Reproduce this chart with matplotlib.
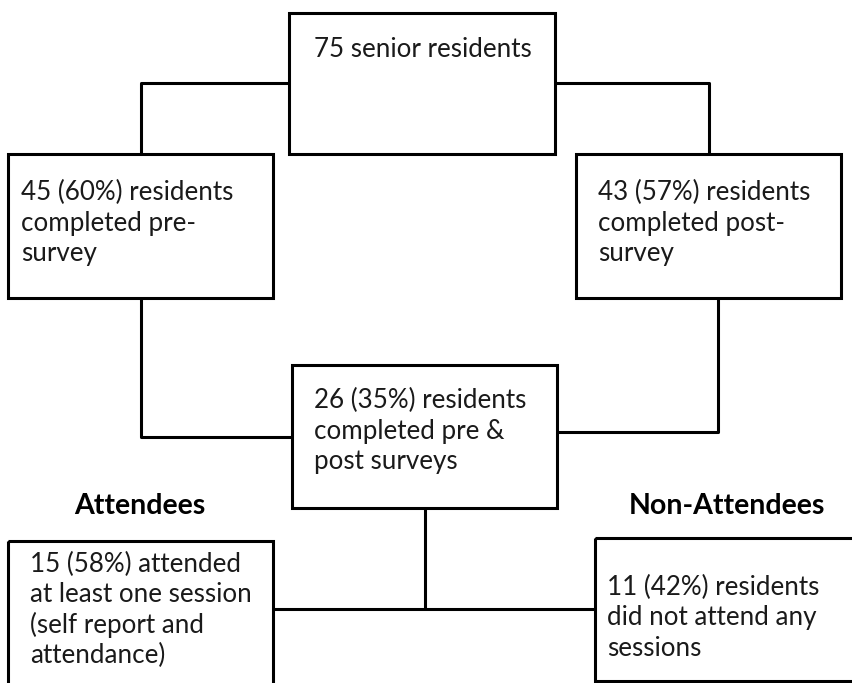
import matplotlib.pyplot as plt
from matplotlib.patches import Rectangle

# box texts (top to bottom, left to right)
box_texts = [
    "75 senior residents",
    "45 (60%) residents\ncompleted pre-\nsurvey",
    "43 (57%) residents\ncompleted post-\nsurvey",
    "26 (35%) residents\ncompleted pre &\npost surveys",
    "15 (58%) attended\nat least one session\n(self report and\nattendance)",
    "11 (42%) residents\ndid not attend any\nsessions",
]
group_labels = ["Attendees", "Non-Attendees"]

# layout in pixel coordinates: (x0, y0, x1, y1) and first-line baseline
box_pos = [
    (289, 13, 555, 154),
    (8, 154, 273, 298),
    (576, 154, 841, 298),
    (292, 365, 557, 508),
    (8, 541, 273, 690),
    (595, 538, 860, 681),
]
text_pos = [(314, 57), (21, 200), (598, 200), (314, 408), (30, 572), (607, 595)]
LINE_STEP = 30.5
group_pos = [(140, 506), (727, 506)]

connectors = [
    [(289, 83), (141, 83), (141, 154)],
    [(555, 83), (709, 83), (709, 154)],
    [(141, 298), (141, 437), (292, 437)],
    [(718, 298), (718, 432), (557, 432)],
    [(425, 508), (425, 609)],
    [(273, 609), (595, 609)],
]

LW = 2.2
FONT = "Lato"

fig = plt.figure(figsize=(8.52, 6.83), dpi=100)
ax = fig.add_axes([0, 0, 1, 1])
ax.set_xlim(0, 852)
ax.set_ylim(683, 0)
ax.axis("off")

for (x0, y0, x1, y1), txt, (tx, ty) in zip(box_pos, box_texts, text_pos):
    ax.add_patch(Rectangle((x0, y0), x1 - x0, y1 - y0, fill=False,
                           edgecolor="black", linewidth=LW))
    for i, line in enumerate(txt.split("\n")):
        ax.text(tx, ty + i * LINE_STEP, line, ha="left", va="baseline",
                fontsize=18.7, family=FONT, color="#1a1a1a")

for pts in connectors:
    xs, ys = zip(*pts)
    ax.plot(xs, ys, color="black", linewidth=LW, solid_capstyle="butt")

for (gx, gy), lab in zip(group_pos, group_labels):
    ax.text(gx, gy, lab, ha="center", va="center", fontsize=20.5,
            family=FONT, fontweight="bold", color="black")

fig.savefig("out.png", dpi=100)
